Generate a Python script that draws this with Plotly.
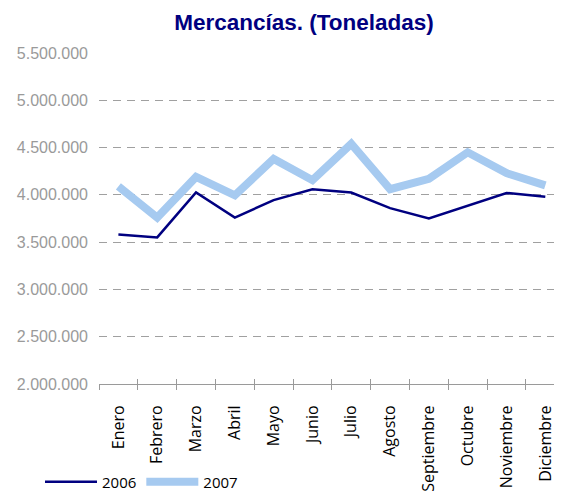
import plotly.graph_objects as go

meses = ["Enero", "Febrero", "Marzo", "Abril", "Mayo", "Junio", "Julio",
         "Agosto", "Septiembre", "Octubre", "Noviembre", "Diciembre"]
v2006 = [3580000, 3550000, 4025000, 3760000, 3945000, 4060000, 4025000,
         3860000, 3750000, 3885000, 4020000, 3980000]
v2007 = [4090000, 3760000, 4190000, 3995000, 4380000, 4155000, 4540000,
         4060000, 4170000, 4450000, 4230000, 4100000]
yticks = [2000000, 2500000, 3000000, 3500000, 4000000, 4500000, 5000000, 5500000]

xs = list(range(len(meses)))
bounds = [i - 0.5 for i in range(13)]
XR = [-0.5, 11.43]
W, H = 554, 483  # page body has an 8px margin

fig = go.Figure()
fig.add_trace(go.Scatter(x=xs, y=v2007, mode="lines", name="2007",
                         line=dict(color="#a6caf0", width=8)))
fig.add_trace(go.Scatter(x=xs, y=v2006, mode="lines", name="2006",
                         line=dict(color="#000080", width=2.5)))
fig.add_trace(go.Scatter(x=[0], y=[None], xaxis="x2", showlegend=False, hoverinfo="skip"))
fig.add_trace(go.Scatter(x=[0], y=[None], xaxis="x3", showlegend=False, hoverinfo="skip"))

fig.update_layout(
    width=W, height=H,
    margin=dict(l=91, r=0, t=45, b=107, autoexpand=False),
    paper_bgcolor="white", plot_bgcolor="white",
    separators=",.",
    showlegend=True,
    title=dict(text="<b>Mercancías. (Toneladas)</b>", x=296 / W, xanchor="center",
               y=1 - 14 / H, yanchor="middle",
               font=dict(family="Liberation Sans, Arial", size=22.5, color="#000080")),
    xaxis=dict(range=XR, tickmode="array", tickvals=xs, ticktext=meses,
               tickangle=-90, showgrid=False, zeroline=False, automargin=False,
               showline=True, linecolor="#9a9a9a", linewidth=1,
               ticks="outside", ticklen=14, tickcolor="rgba(0,0,0,0)",
               tickfont=dict(family="Open Sans", size=16, color="#000000")),
    xaxis2=dict(range=XR, overlaying="x", anchor="y", side="bottom",
                tickmode="array", tickvals=bounds, automargin=False,
                ticks="outside", ticklen=5, tickcolor="#9a9a9a", tickwidth=1,
                showticklabels=False, showgrid=False, zeroline=False, showline=False),
    xaxis3=dict(range=XR, overlaying="x", anchor="y", side="bottom",
                tickmode="array", tickvals=bounds, automargin=False,
                ticks="inside", ticklen=5, tickcolor="#9a9a9a", tickwidth=1,
                showticklabels=False, showgrid=False, zeroline=False, showline=False),
    yaxis=dict(range=[2000000, 5500000], tickmode="array", tickvals=yticks,
               tickformat=",d", showgrid=True, gridcolor="#a0a0a0", gridwidth=1,
               griddash="8px,6px", zeroline=False, showline=False, automargin=False,
               ticklabelstandoff=10,
               tickfont=dict(family="Liberation Sans, Arial", size=16, color="#9a9a9a")),
    legend=dict(orientation="h", xref="container", yref="container",
                x=32 / W, y=1 - 474 / H, xanchor="left", yanchor="middle",
                font=dict(family="Open Sans", size=15, color="#000000"),
                traceorder="reversed",
                bgcolor="rgba(0,0,0,0)", itemwidth=52),
)

fig.write_html("out.html")
